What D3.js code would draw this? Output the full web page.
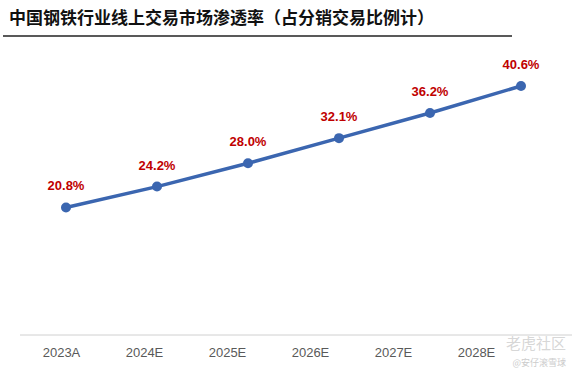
<!DOCTYPE html>
<html><head><meta charset="utf-8">
<script src="https://cdn.jsdelivr.net/npm/d3@7"></script>
<style>body{margin:0;background:#fff}</style>
</head><body>
<script>
const title = "中国钢铁行业线上交易市场渗透率（占分销交易比例计）";
const categories = ["2023A","2024E","2025E","2026E","2027E","2028E"];
const values = [20.8, 24.2, 28.0, 32.1, 36.2, 40.6];
const valueLabels = ["20.8%","24.2%","28.0%","32.1%","36.2%","40.6%"];

const W = 572, H = 377;
const svg = d3.select("body").append("svg").attr("width", W).attr("height", H);

svg.append("text").attr("x", 9).attr("y", 24)
  .attr("font-family", "'Noto Sans CJK SC', sans-serif").attr("font-weight", "bold")
  .attr("font-size", 17).attr("fill", "#111").text(title);
svg.append("line").attr("x1", 3).attr("x2", 512).attr("y1", 36).attr("y2", 36)
  .attr("stroke", "#222").attr("stroke-width", 1.5);

const x = d3.scalePoint().domain(categories).range([66, 521]);
const xLab = d3.scalePoint().domain(categories).range([61, 476]);
const y = d3.scaleLinear().domain([0, 40.6]).range([335, 86]);

// axis line + labels
const ax = svg.append("g").attr("transform", "translate(0,335)")
  .call(d3.axisBottom(xLab).tickSize(0).tickPadding(13));
ax.select(".domain").attr("d", "M20,0H572").attr("stroke", "#d0d0d0").attr("stroke-width", 1);
ax.selectAll("text").attr("font-family", "Arial, 'Liberation Sans', sans-serif")
  .attr("font-size", 13).attr("fill", "#595959");

const line = d3.line().x((d, i) => x(categories[i])).y(d => y(d));
svg.append("path").datum(values).attr("d", line).attr("fill", "none")
  .attr("stroke", "#3b66b0").attr("stroke-width", 3.5);
svg.selectAll("circle.pt").data(values).join("circle").attr("class", "pt")
  .attr("cx", (d, i) => x(categories[i])).attr("cy", d => y(d)).attr("r", 5)
  .attr("fill", "#3b66b0");
svg.selectAll("text.lbl").data(values).join("text").attr("class", "lbl")
  .attr("x", (d, i) => x(categories[i])).attr("y", d => y(d) - 17)
  .attr("text-anchor", "middle").attr("font-family", "Arial, 'Liberation Sans', sans-serif")
  .attr("font-weight", "bold").attr("font-size", 13).attr("fill", "#c00000")
  .text((d, i) => valueLabels[i]);

// watermark
svg.append("text").attr("x", 566).attr("y", 349).attr("text-anchor", "end")
  .attr("font-family", "'Noto Sans CJK SC', sans-serif").attr("font-size", 15)
  .attr("fill", "#ccc").attr("fill-opacity", 0.8).text("老虎社区");
svg.append("text").attr("x", 566).attr("y", 366).attr("text-anchor", "end")
  .attr("font-family", "'Noto Sans CJK SC', sans-serif").attr("font-size", 9)
  .attr("fill", "#ccc").text("@安仔滚雪球");
</script>
</body></html>
